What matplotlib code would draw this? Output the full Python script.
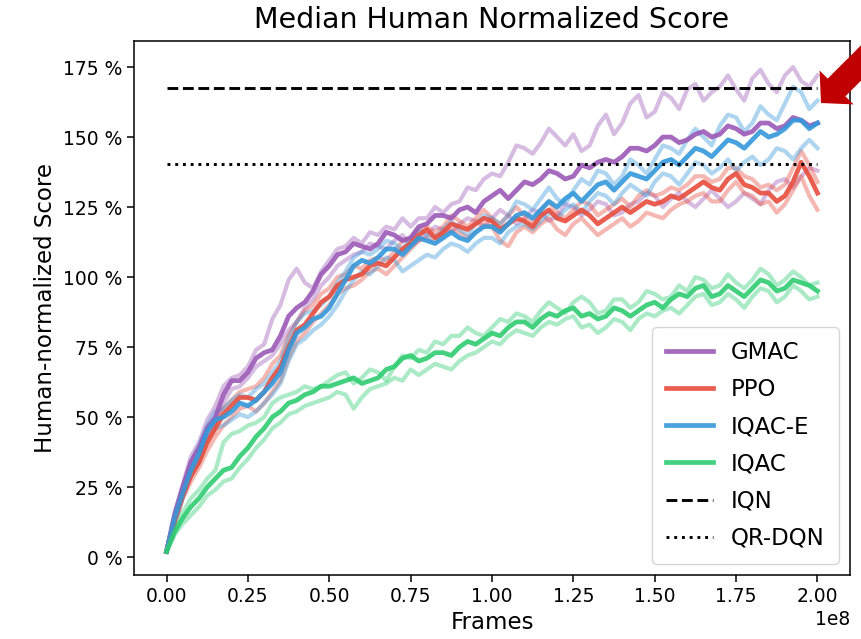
import numpy as np
import matplotlib
matplotlib.use("Agg")
import matplotlib.pyplot as plt
from matplotlib.ticker import MultipleLocator, FuncFormatter
from matplotlib.patches import Polygon

# --- Data (score in %, one sample every 2.5M frames) ---
frames = np.arange(81) * 2.5e6

gmac = [2, 15, 25, 34, 39, 46, 50, 58, 63, 63,
        66, 71, 73, 74, 79, 86, 89, 91, 95, 101,
        104, 108, 109, 112, 111, 110, 112, 116, 115, 113,
        114, 118, 119, 122, 122, 121, 124, 125, 123, 127,
        129, 131, 128, 131, 134, 133, 135, 138, 137, 135,
        136, 140, 139, 141, 142, 141, 143, 146, 146, 145,
        147, 150, 150, 148, 149, 151, 152, 150, 151, 154,
        153, 151, 152, 155, 155, 153, 154, 157, 156, 154,
        155]
gmac_hi = [2, 16, 26, 36, 41, 49, 54, 61, 64, 65,
           68, 74, 76, 85, 90, 99, 103, 98, 96, 102,
           106, 110, 111, 114, 112, 116, 115, 118, 117, 121,
           118, 121, 121, 125, 123, 126, 127, 132, 131, 135,
           137, 136, 141, 147, 146, 144, 148, 153, 150, 147,
           151, 145, 147, 154, 158, 151, 155, 162, 165, 157,
           159, 166, 164, 160, 167, 169, 163, 166, 168, 172,
           167, 163, 171, 174, 169, 166, 172, 175, 170, 168,
           172]
gmac_lo = [2, 14, 24, 31, 37, 44, 48, 55, 60, 61,
           64, 68, 70, 72, 76, 81, 84, 89, 92, 97,
           100, 104, 106, 108, 109, 112, 111, 110, 113, 115,
           111, 113, 115, 118, 117, 116, 119, 121, 120, 118,
           121, 124, 122, 119, 121, 124, 123, 120, 122, 126,
           125, 122, 124, 127, 126, 122, 123, 126, 127, 130,
           129, 125, 128, 130, 127, 125, 128, 131, 128, 125,
           127, 130, 128, 126, 131, 134, 135, 132, 136, 139,
           138]

ppo = [2, 13, 22, 29, 34, 41, 46, 51, 54, 57,
       57, 56, 59, 64, 68, 75, 81, 83, 87, 91,
       93, 97, 99, 100, 101, 104, 105, 104, 107, 110,
       112, 115, 117, 114, 116, 119, 118, 117, 119, 121,
       120, 117, 119, 121, 120, 118, 122, 124, 121, 120,
       122, 124, 122, 119, 121, 123, 125, 123, 125, 127,
       126, 127, 129, 128, 130, 132, 134, 132, 131, 135,
       137, 133, 132, 130, 130, 127, 129, 134, 141, 136,
       130]
ppo_hi = [2, 14, 23, 31, 36, 43, 48, 53, 56, 59,
          60, 61, 64, 69, 72, 79, 84, 88, 90, 94,
          96, 100, 101, 104, 103, 106, 107, 106, 109, 113,
          114, 117, 118, 116, 118, 122, 120, 118, 121, 124,
          121, 119, 122, 125, 122, 120, 124, 127, 123, 121,
          124, 127, 126, 122, 124, 126, 128, 125, 129, 131,
          129, 130, 132, 131, 133, 136, 136, 134, 135, 139,
          139, 136, 135, 132, 133, 131, 133, 139, 145, 140,
          134]
ppo_lo = [2, 12, 21, 27, 32, 38, 43, 47, 50, 53,
          54, 52, 55, 59, 63, 71, 77, 80, 84, 87,
          90, 94, 96, 97, 99, 102, 103, 101, 104, 107,
          110, 113, 114, 112, 115, 117, 116, 114, 116, 119,
          118, 113, 111, 116, 118, 116, 119, 121, 117, 115,
          119, 121, 118, 115, 117, 119, 121, 118, 120, 123,
          122, 121, 124, 126, 127, 129, 130, 127, 127, 131,
          134, 130, 129, 126, 127, 123, 126, 131, 136, 129,
          124]

iqac_e = [2, 14, 23, 31, 37, 45, 49, 50, 52, 55,
          54, 56, 59, 62, 66, 74, 80, 82, 85, 86,
          89, 94, 99, 104, 106, 105, 107, 110, 110, 108,
          111, 114, 113, 112, 114, 116, 114, 113, 116, 118,
          118, 116, 119, 122, 123, 121, 124, 127, 125, 128,
          130, 127, 130, 133, 134, 131, 134, 137, 136, 135,
          138, 141, 142, 140, 143, 146, 145, 143, 146, 149,
          148, 146, 149, 152, 150, 151, 153, 156, 156, 153,
          155]
iqac_e_hi = [2, 16, 25, 34, 40, 47, 52, 53, 56, 58,
             57, 60, 62, 66, 70, 78, 84, 87, 88, 90,
             93, 98, 102, 107, 109, 108, 110, 113, 112, 110,
             114, 117, 115, 114, 117, 120, 117, 115, 119, 122,
             121, 119, 122, 127, 126, 124, 128, 132, 128, 126,
             131, 135, 133, 138, 137, 133, 136, 142, 140, 137,
             142, 147, 146, 144, 149, 153, 150, 147, 154, 158,
             157, 152, 155, 161, 158, 156, 162, 168, 166, 160,
             163]
iqac_e_lo = [2, 12, 21, 29, 34, 42, 46, 47, 49, 51,
             50, 52, 55, 58, 62, 70, 76, 78, 81, 83,
             86, 90, 95, 99, 102, 101, 104, 107, 106, 102,
             104, 106, 108, 107, 110, 112, 111, 109, 112, 114,
             114, 112, 116, 118, 119, 117, 120, 123, 121, 124,
             126, 123, 127, 130, 129, 126, 130, 133, 131, 129,
             134, 137, 136, 133, 137, 141, 140, 137, 139, 142,
             138, 141, 143, 140, 142, 146, 145, 142, 146, 149,
             146]

iqac = [2, 9, 14, 18, 21, 25, 28, 31, 32, 36,
        39, 43, 46, 50, 52, 55, 56, 58, 59, 61,
        61, 62, 63, 64, 62, 63, 64, 67, 68, 71,
        72, 70, 71, 73, 73, 72, 75, 77, 76, 78,
        80, 79, 82, 84, 84, 82, 85, 87, 86, 88,
        89, 86, 87, 85, 86, 89, 88, 86, 88, 90,
        91, 89, 92, 94, 93, 96, 97, 93, 94, 97,
        95, 93, 96, 99, 98, 95, 96, 99, 98, 97,
        95]
iqac_hi = [2, 10, 16, 21, 24, 28, 31, 41, 44, 45,
           47, 48, 50, 55, 57, 58, 59, 61, 60, 61,
           63, 65, 66, 62, 64, 67, 66, 63, 68, 72,
           71, 74, 73, 77, 76, 79, 79, 82, 80, 79,
           82, 85, 84, 87, 86, 84, 88, 91, 89, 87,
           91, 93, 91, 87, 88, 92, 92, 89, 91, 95,
           94, 92, 93, 97, 95, 100, 99, 96, 97, 101,
           98, 96, 99, 103, 101, 97, 99, 102, 100, 97,
           98]
iqac_lo = [2, 8, 12, 15, 18, 22, 24, 27, 28, 32,
           35, 39, 42, 46, 48, 51, 52, 54, 55, 56,
           57, 59, 58, 53, 57, 60, 61, 62, 64, 63,
           67, 65, 67, 69, 68, 67, 70, 72, 73, 75,
           77, 76, 79, 81, 80, 79, 82, 84, 83, 85,
           86, 82, 83, 80, 82, 85, 84, 81, 85, 87,
           86, 88, 89, 87, 90, 93, 94, 90, 91, 94,
           92, 89, 93, 96, 95, 91, 93, 97, 95, 92,
           93]

iqn_score = 167.5
qrdqn_score = 140.5

series = [
    ('GMAC', '#9b59b6', gmac, gmac_hi, gmac_lo),
    ('PPO', '#e74c3c', ppo, ppo_hi, ppo_lo),
    ('IQAC-E', '#3498db', iqac_e, iqac_e_hi, iqac_e_lo),
    ('IQAC', '#2ecc71', iqac, iqac_hi, iqac_lo),
]

fig = plt.figure(figsize=(8.61, 6.39), dpi=100)
ax = fig.add_axes([134 / 861, 1 - 575 / 639, (850 - 134) / 861, (575 - 41) / 639])

# faint per-seed curves first, then the aggregated curves on top
for name, col, mid, hi, lo in series:
    ax.plot(frames, hi, color=col, alpha=0.4, lw=3.0, zorder=1)
    ax.plot(frames, lo, color=col, alpha=0.4, lw=3.0, zorder=1)
for name, col, mid, hi, lo in series:
    ax.plot(frames, mid, color=col, lw=3.4, alpha=0.9, label=name, zorder=2)

ax.hlines(iqn_score, frames[0], frames[-1], colors='black', linestyles='--', lw=2.1, label='IQN', zorder=3)
ax.hlines(qrdqn_score, frames[0], frames[-1], colors='black', linestyles=':', lw=2.1, label='QR-DQN', zorder=3)

ax.set_xlim(-0.1e8, 2.1e8)
ax.set_ylim(-6.4, 184.3)
ax.xaxis.set_major_locator(MultipleLocator(0.25e8))
ax.yaxis.set_major_locator(MultipleLocator(25))
ax.yaxis.set_major_formatter(FuncFormatter(lambda v, _: f'{v:.0f} %'))
ax.tick_params(axis='both', labelsize=13.5, length=5, width=1.1)
ax.xaxis.get_offset_text().set_fontsize(13.5)
for sp in ax.spines.values():
    sp.set_linewidth(1.1)

ax.set_title('Median Human Normalized Score', fontsize=20.5, pad=9)
ax.set_xlabel('Frames', fontsize=16.5)
ax.set_ylabel('Human-normalized Score', fontsize=16.5)

ax.legend(loc='lower right', fontsize=16.5, handlelength=2.05, framealpha=0.8,
          labelspacing=0.62, borderpad=0.6)

# red call-out arrow in the top right corner (image pixel coords, y down)
tip = np.array([821.0, 103.0])
u = np.array([1.0, -1.0]) / np.sqrt(2)
n = np.array([1.0, 1.0]) / np.sqrt(2)
pts = [tip, tip + 22 * u + 24 * n, tip + 22 * u + 12.5 * n, tip + 110 * u + 12.5 * n,
       tip + 110 * u - 12.5 * n, tip + 22 * u - 12.5 * n, tip + 22 * u - 24 * n]
pts = [(p[0] / 861, 1 - p[1] / 639) for p in pts]
fig.patches.append(Polygon(pts, closed=True, facecolor='#c00000', edgecolor='none',
                           transform=fig.transFigure, figure=fig, zorder=10))

fig.savefig('out.png', dpi=100, facecolor='white')
